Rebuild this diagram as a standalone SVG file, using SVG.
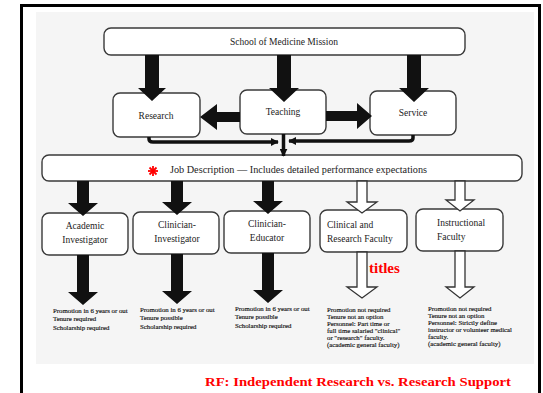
<svg xmlns="http://www.w3.org/2000/svg" width="543" height="393" viewBox="0 0 543 393">
<defs>
<style>
.box{fill:#fff;stroke:#3a3a3a;stroke-width:1.4}
.t{font-family:"Liberation Serif","Times New Roman",serif;font-size:9.5px;fill:#222}
.tc{text-anchor:middle}
.s{font-family:"Liberation Serif","Times New Roman",serif;font-size:6.8px;fill:#111;stroke:#111;stroke-width:0.15}
.solid{fill:#111}
.hollow{fill:#fff;stroke:#333;stroke-width:1.3}
.conn{fill:none;stroke:#111;stroke-width:3.5}
.red{font-family:"Liberation Serif","Times New Roman",serif;font-weight:bold;fill:#f00}
</style>
<marker id="ah" viewBox="0 0 10 10" refX="9" refY="5" markerWidth="8" markerHeight="8" markerUnits="userSpaceOnUse" orient="auto">
<path d="M0,0 L10,5 L0,10 Z" fill="#111"/>
</marker>
</defs>
<rect x="21.5" y="5.5" width="518" height="400" fill="#fff" stroke="#000" stroke-width="3"/>
<rect x="36" y="12" width="498" height="352" fill="#f5f5f5"/>

<g id="mission">
<rect class="box" x="104" y="28" width="361" height="27" rx="7"/>
<text class="t tc" x="284" y="45">School of Medicine Mission</text>
</g>
<g id="research">
<rect class="box" x="113" y="93" width="87" height="44" rx="7"/>
<text class="t tc" x="156" y="119">Research</text>
</g>
<g id="teaching">
<rect class="box" x="240" y="90" width="86" height="44" rx="7"/>
<text class="t tc" x="283" y="115">Teaching</text>
</g>
<g id="service">
<rect class="box" x="370" y="91" width="86" height="44" rx="7"/>
<text class="t tc" x="413" y="116">Service</text>
</g>
<g id="jobdesc">
<rect class="box" x="42" y="155" width="480" height="26" rx="7"/>
<g stroke="#f00" stroke-width="1.8">
<line x1="148" y1="171" x2="158" y2="171"/>
<line x1="153" y1="166" x2="153" y2="176"/>
<line x1="149.5" y1="167.5" x2="156.5" y2="174.5"/>
<line x1="149.5" y1="174.5" x2="156.5" y2="167.5"/>
</g>
<text class="t" x="170" y="173" textLength="257" lengthAdjust="spacingAndGlyphs">Job Description — Includes detailed performance expectations</text>
</g>
<g id="academic">
<rect class="box" x="42" y="213" width="86" height="42" rx="7"/>
<text class="t tc" x="85" y="229">Academic</text>
<text class="t tc" x="85" y="243">Investigator</text>
</g>
<g id="clin-inv">
<rect class="box" x="133" y="212" width="86" height="42" rx="7"/>
<text class="t tc" x="177" y="228">Clinician-</text>
<text class="t tc" x="177" y="242">Investigator</text>
</g>
<g id="clin-edu">
<rect class="box" x="224" y="211" width="86" height="42" rx="7"/>
<text class="t tc" x="267" y="227">Clinician-</text>
<text class="t tc" x="267" y="241">Educator</text>
</g>
<g id="clin-res">
<rect class="box" x="320" y="210" width="87" height="42" rx="7"/>
<text class="t" x="327" y="228">Clinical and</text>
<text class="t" x="327" y="242">Research Faculty</text>
</g>
<g id="instr">
<rect class="box" x="416" y="209" width="87" height="42" rx="7"/>
<text class="t" x="437" y="226">Instructional</text>
<text class="t" x="437" y="240">Faculty</text>
</g>

<g id="connectors">
<polygon class="solid" points="145,55 159,55 159,88 166,88 152,101 138,88 145,88"/>
<polygon class="solid" points="277,55 291,55 291,88 299,88 284,102 269,88 277,88"/>
<polygon class="solid" points="407,55 421,55 421,88 429,88 414,102 399,88 407,88"/>
<polygon class="solid" points="240,112 217,112 217,104 200,117 217,130 217,122 240,122"/>
<polygon class="solid" points="326,111 357,111 357,103 372,116 357,129 357,121 326,121"/>
<path class="conn" d="M149,137 V139 Q149,142 153,142 H278" marker-end="url(#ah)"/>
<path class="conn" d="M413,135 V138 Q413,141 409,141 H289" marker-end="url(#ah)"/>
<path class="conn" d="M283.5,134 V156" stroke-width="3" marker-end="url(#ah)"/>
<polygon class="solid" points="77,181 89,181 89,203 98,203 83,216 68,203 77,203"/>
<polygon class="solid" points="171,181 183,181 183,202 192,202 177,215 162,202 171,202"/>
<polygon class="solid" points="262,181 274,181 274,201 283,201 268,214 253,201 262,201"/>
<polygon class="hollow" points="357,181 367,181 367,202 377,202 362,213 347,202 357,202"/>
<polygon class="hollow" points="455,181 465,181 465,200 474,200 460,211 446,200 455,200"/>
<polygon class="solid" points="77,255 89,255 89,292 98,292 83,305 68,292 77,292"/>
<polygon class="solid" points="171,254 183,254 183,291 192,291 177,304 162,291 171,291"/>
<polygon class="solid" points="262,253 274,253 274,290 283,290 268,303 253,290 262,290"/>
<polygon class="hollow" points="357,252 367,252 367,287 377,287 362,298 347,287 357,287"/>
<polygon class="hollow" points="455,251 465,251 465,287 474,287 460,298 446,287 455,287"/>
</g>

<g id="notes">
<text class="s" x="53" y="313">Promotion in 6 years or out</text>
<text class="s" x="53" y="321">Tenure required</text>
<text class="s" x="53" y="329.5">Scholarship required</text>
<text class="s" x="140" y="312">Promotion in 6 years or out</text>
<text class="s" x="140" y="320">Tenure possible</text>
<text class="s" x="140" y="328.5">Scholarship required</text>
<text class="s" x="235" y="311">Promotion in 6 years or out</text>
<text class="s" x="235" y="319">Tenure possible</text>
<text class="s" x="235" y="327.5">Scholarship required</text>
<text class="s" x="327" y="312">Promotion not required</text>
<text class="s" x="327" y="319">Tenure not an option</text>
<text class="s" x="327" y="326">Personnel:  Part time or</text>
<text class="s" x="327" y="333">full time salaried "clinical"</text>
<text class="s" x="327" y="340">or "research" faculty.</text>
<text class="s" x="327" y="347">(academic general faculty)</text>
<text class="s" x="428" y="311">Promotion not required</text>
<text class="s" x="428" y="318">Tenure not an option</text>
<text class="s" x="428" y="325">Personnel:  Strictly define</text>
<text class="s" x="428" y="332">instructor or volunteer medical</text>
<text class="s" x="428" y="339">faculty.</text>
<text class="s" x="428" y="346">(academic general faculty)</text>
</g>

<text class="red" x="369" y="273" font-size="15">titles</text>
<text class="red" x="205" y="386" font-size="13.5" textLength="306" lengthAdjust="spacingAndGlyphs">RF:  Independent Research vs. Research Support</text>
</svg>
